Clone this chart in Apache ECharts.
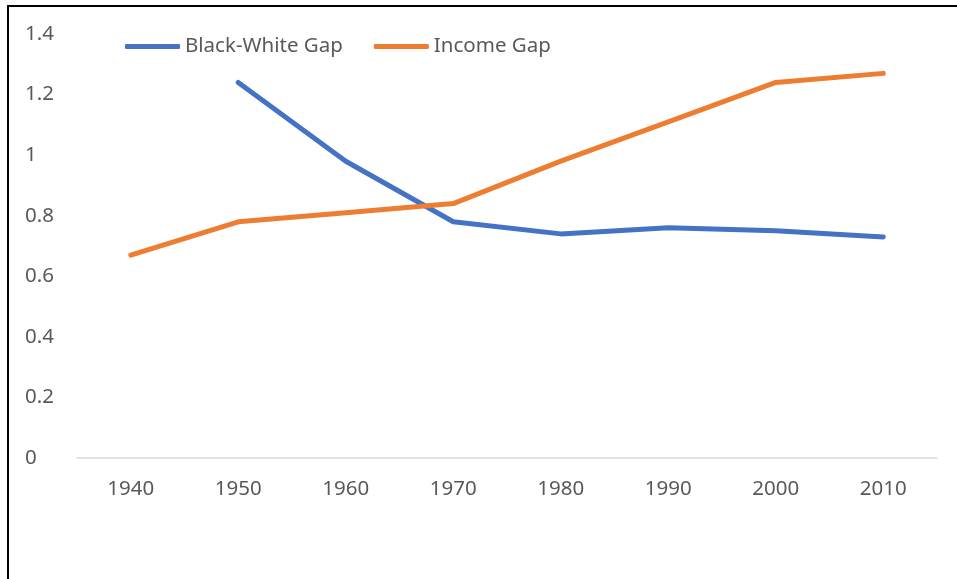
<!DOCTYPE html>
<html>
<head>
<meta charset="utf-8">
<script src="https://cdn.jsdelivr.net/npm/echarts@6/dist/echarts.min.js"></script>
<style>
html,body{margin:0;padding:0;background:#fff;}
#chart{width:957px;height:579px;}
</style>
</head>
<body>
<div id="chart"></div>
<script>
var years = ['1940','1950','1960','1970','1980','1990','2000','2010'];
var blackWhiteGap = [null, 1.24, 0.98, 0.78, 0.74, 0.76, 0.75, 0.73];
var incomeGap = [0.67, 0.78, 0.81, 0.84, 0.98, 1.11, 1.24, 1.27];
var yTicks = [0, 0.2, 0.4, 0.6, 0.8, 1, 1.2, 1.4];

var font = 'Noto Sans';
var fs = 20.5;
var chart = echarts.init(document.getElementById('chart'));
chart.setOption({
  animation: false,
  graphic: [{
    type: 'rect',
    shape: {x: 8, y: 6, width: 960, height: 590},
    style: {fill: 'none', stroke: '#000', lineWidth: 2},
    z: 100
  }],
  legend: {
    top: 31,
    left: 120,
    itemWidth: 55,
    itemHeight: 5,
    itemGap: 31,
    icon: 'roundRect',
    textStyle: {color: '#595959', fontSize: fs, fontFamily: font},
    data: ['Black-White Gap', 'Income Gap']
  },
  grid: {left: 77, right: 20, top: 34, bottom: 121, containLabel: false},
  xAxis: {
    type: 'category',
    data: years,
    boundaryGap: true,
    axisLine: {lineStyle: {color: '#D9D9D9', width: 1.5}},
    axisTick: {show: false},
    axisLabel: {color: '#595959', fontSize: fs, fontFamily: font, margin: 21}
  },
  yAxis: {
    type: 'value',
    min: 0, max: 1.4, interval: 0.2,
    axisLine: {show: false},
    axisTick: {show: false},
    splitLine: {show: false},
    axisLabel: {
      color: '#595959', fontSize: fs, fontFamily: font,
      align: 'left', margin: 52,
      formatter: function (v) { var t = yTicks.find(function(k){return Math.abs(k-v)<1e-9;}); return t === undefined ? '' : String(t); }
    }
  },
  series: [
    {
      name: 'Black-White Gap', type: 'line', data: blackWhiteGap,
      showSymbol: false, symbol: 'none',
      lineStyle: {color: '#4472C4', width: 5, cap: 'round', join: 'round'},
      itemStyle: {color: '#4472C4'}
    },
    {
      name: 'Income Gap', type: 'line', data: incomeGap,
      showSymbol: false, symbol: 'none',
      lineStyle: {color: '#ED7D31', width: 5, cap: 'round', join: 'round'},
      itemStyle: {color: '#ED7D31'}
    }
  ]
});
</script>
</body>
</html>
